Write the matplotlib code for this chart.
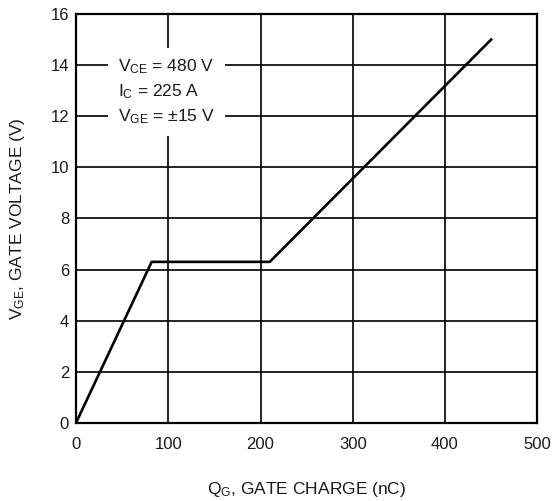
import matplotlib.pyplot as plt

plt.rcParams['font.family'] = ['Liberation Sans', 'DejaVu Sans']

# gate charge curve (nC, V)
qg = [0, 82, 210, 450]
vge = [0, 6.3, 6.3, 15]

xticks = [0, 100, 200, 300, 400, 500]
yticks = [0, 2, 4, 6, 8, 10, 12, 14, 16]

ink = '#1a1a1a'

fig = plt.figure(figsize=(5.55, 5.01), dpi=100)
ax = fig.add_axes([0.137, 0.156, 0.831, 0.816])

ax.plot(qg, vge, color='black', lw=1.9, zorder=3)

ax.set_xlim(0, 500)
ax.set_ylim(0, 16)
ax.set_xticks(xticks)
ax.set_yticks(yticks)
ax.grid(True, color='black', lw=1.2)
ax.tick_params(length=0, labelsize=12, colors=ink)
ax.tick_params(axis='x', pad=10)
ax.tick_params(axis='y', pad=5)
for s in ax.spines.values():
    s.set_linewidth(1.6)

ax.text(45.5, 12.95,
        "$\\mathregular{V_{CE}}$ = 480 V\n$\\mathregular{I_C}$ = 225 A\n$\\mathregular{V_{GE}}$ = ±15 V",
        ha='left', va='center', fontsize=12.5, linespacing=1.45, color=ink,
        bbox=dict(facecolor='white', edgecolor='none', pad=7), zorder=4)

ax.set_xlabel("$\\mathregular{Q_G}$, GATE CHARGE (nC)", fontsize=12.5, labelpad=20, color=ink)
ax.set_ylabel("$\\mathregular{V_{GE}}$, GATE VOLTAGE (V)", fontsize=12.5, labelpad=17, color=ink)

fig.savefig('out.png', dpi=100)
